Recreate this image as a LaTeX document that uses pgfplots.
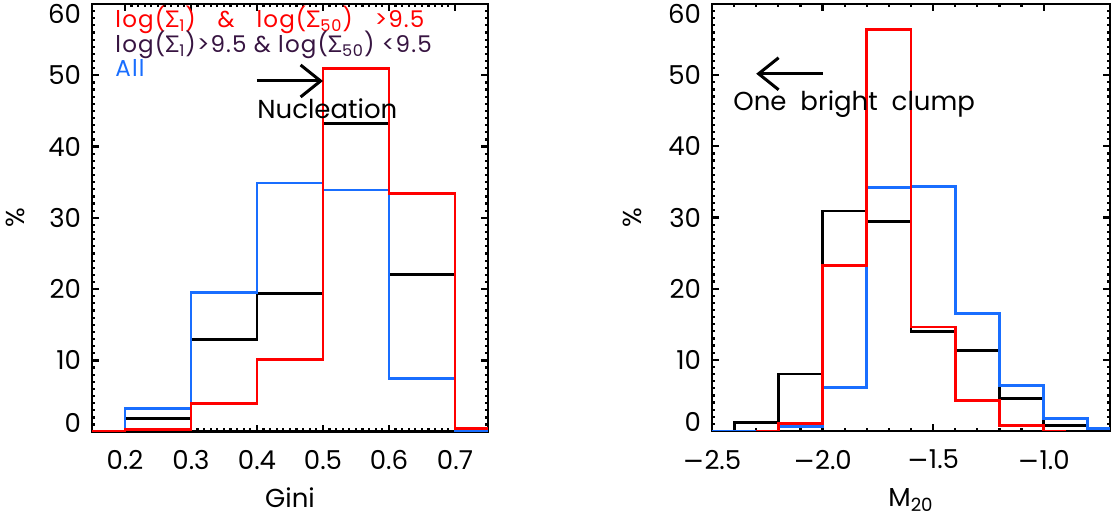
\documentclass[border=0pt]{standalone}
\usepackage{fontspec}
\setmainfont{Poppins}
\newfontfamily\gr{Lato}
\newfontfamily\dv{DejaVu Sans}
\usepackage{pgfplots}
\pgfplotsset{compat=1.18}
\usetikzlibrary{arrows.meta}
\definecolor{idlred}{RGB}{255,0,0}
\definecolor{idlblue}{RGB}{25,110,255}
\definecolor{idlpurple}{RGB}{55,20,65}
\newcommand{\mi}{{\dv\char"2212}}
\newcommand{\up}[1]{\raisebox{4.5pt}[\height][\depth]{#1}}
\newcommand{\dn}[1]{\raisebox{-4.8pt}[\height][\depth]{#1}}
\newcommand{\lgfont}{\fontsize{11.5}{13}\selectfont\addfontfeature{LetterSpace=5}}
\pgfplotsset{
  histax/.style={
    scale only axis,
    ymin=0, ymax=60,
    ytick={0,10,20,30,40,50,60},
    yticklabels={\up{0},10,20,30,40,50,\dn{60}},
    minor y tick num=9,
    tick align=inside,
    xtick pos=both, ytick pos=both,
    major tick length=3.5pt,
    minor tick length=1.6pt,
    tick style={black, line width=1.1pt},
    axis line style={black, line width=1.4pt},
    tick label style={font=\fontsize{13}{15}\selectfont},
    xticklabel style={yshift=-6pt},
    yticklabel style={xshift=-2pt},
    label style={font=\fontsize{13}{15}\selectfont},
    xlabel style={at={(axis description cs:0.5,0)}, anchor=base, yshift=-37.7pt},
    clip=true,
  },
  hist/.style={const plot mark left, line width=1.4pt, mark=none},
}
\begin{document}
\begin{tikzpicture}
\path[use as bounding box] (0,0) rectangle (556.5pt,258.5pt);
% ---------------- left panel ----------------
\begin{axis}[histax,
  at={(46pt,42.65pt)}, anchor=south west,
  width=198pt, height=213.85pt,
  xmin=0.15, xmax=0.75,
  xtick={0.2,0.3,0.4,0.5,0.6,0.7},
  xticklabels={0.2,0.3,0.4,0.5,0.6,0.7},
  minor x tick num=9,
  xlabel={Gini}, ylabel={\%},
  ylabel style={at={(axis description cs:-0.194,0.5)}, anchor=center}]
\addplot[hist, black] coordinates {(0.15,0) (0.2,1.8) (0.3,12.9) (0.4,19.4) (0.5,43.2) (0.6,22.1) (0.7,0) (0.75,0)};
\addplot[hist, idlblue] coordinates {(0.15,0) (0.2,3.2) (0.3,19.5) (0.4,34.9) (0.5,33.9) (0.6,7.5) (0.7,0) (0.75,0)};
\addplot[hist, idlred] coordinates {(0.15,0) (0.2,0.3) (0.3,4.0) (0.4,10.1) (0.5,50.9) (0.6,33.4) (0.7,0.4) (0.75,0.4)};
\node[anchor=base west, text=idlred, font=\lgfont, inner sep=0pt] at (axis cs:0.185,56.7) {log({\gr Σ}\textsubscript{1})\ \ \ \&\ \ \ log({\gr Σ}\textsubscript{50})\ \ \ >9.5};
\node[anchor=base west, text=idlpurple, font=\lgfont, inner sep=0pt] at (axis cs:0.185,53.2) {log({\gr Σ}\textsubscript{1})>9.5\ \&\ log({\gr Σ}\textsubscript{50})\ <9.5};
\node[anchor=base west, text=idlblue, font=\lgfont, inner sep=0pt] at (axis cs:0.185,49.8) {All};
\draw[line width=1.5pt, -{Straight Barb[length=10pt,width=16pt]}] (axis cs:0.40,49.2) -- (axis cs:0.50,49.2);
\node[anchor=base west, font=\fontsize{13}{15}\selectfont, inner sep=0pt] at (axis cs:0.40,44.0) {Nucleation};
\end{axis}
% ---------------- right panel ----------------
\begin{axis}[histax,
  at={(356pt,43pt)}, anchor=south west,
  width=199pt, height=213.5pt,
  xmin=-2.5, xmax=-0.7,
  xtick={-2.5,-2.0,-1.5,-1.0},
  xticklabels={\mi2.5,\mi2.0,\mi1.5,\mi1.0},
  minor x tick num=4,
  xlabel={M\textsubscript{20}}, ylabel={\%},
  ylabel style={at={(axis description cs:-0.201,0.5)}, anchor=center}]
\addplot[hist, black] coordinates {(-2.5,0) (-2.4,1.2) (-2.2,8.0) (-2.0,30.9) (-1.8,29.4) (-1.6,14.0) (-1.4,11.3) (-1.2,4.6) (-1.0,0.8) (-0.8,0) (-0.7,0)};
\addplot[hist, idlblue] coordinates {(-2.5,0) (-2.4,0) (-2.2,0.6) (-2.0,6.1) (-1.8,34.2) (-1.6,34.4) (-1.4,16.5) (-1.2,6.4) (-1.0,1.7) (-0.8,0.3) (-0.7,0.3)};
\addplot[hist, idlred] coordinates {(-2.3,0) (-2.2,1.1) (-2.0,23.2) (-1.8,56.4) (-1.6,14.6) (-1.4,4.3) (-1.2,0.8) (-1.0,0) (-0.9,0)};
\draw[line width=1.5pt, -{Straight Barb[length=10pt,width=16pt]}] (axis cs:-2.0,50.2) -- (axis cs:-2.3,50.2);
\node[anchor=base west, font=\fontsize{13}{15}\selectfont, inner sep=0pt] at (axis cs:-2.405,45.0) {One\ \ bright\ \ clump};
\end{axis}
\end{tikzpicture}
\end{document}
